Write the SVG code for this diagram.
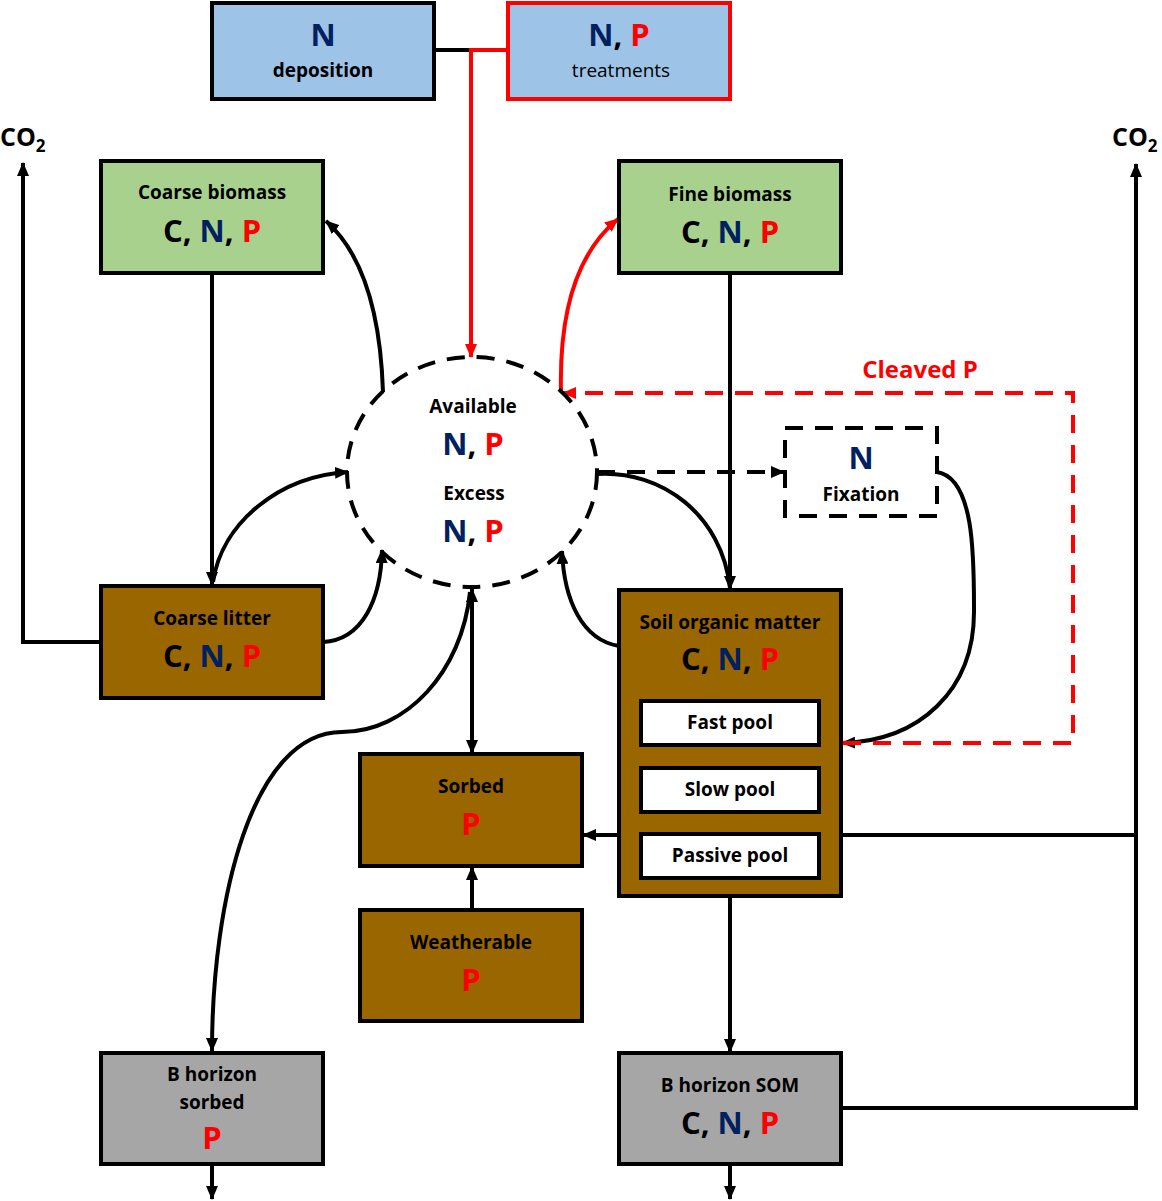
<svg xmlns="http://www.w3.org/2000/svg" width="1162" height="1201" viewBox="0 0 1162 1201">
<style>
text{font-family:"Open Sans","Liberation Sans",sans-serif;text-anchor:middle;font-weight:700;fill:#000}
.t{font-size:19px}
.big{font-size:31px}
.n{fill:#002060}
.p{fill:#FF0000}
.box{stroke:#000;stroke-width:4}
.blue{fill:#9DC3E6}
.green{fill:#A9D18E}
.brown{fill:#996600}
.gray{fill:#A6A6A6}
.white{fill:#fff}
.c{fill:none;stroke:#000;stroke-width:4}
.r{fill:none;stroke:#FF0000;stroke-width:4}
.dash{stroke-dasharray:18 12}
</style>
<defs>
<marker id="a" viewBox="0 0 14 12" refX="13" refY="6" markerWidth="14" markerHeight="12" markerUnits="userSpaceOnUse" orient="auto-start-reverse"><path d="M0,0 L14,6 L0,12 z" fill="#000"/></marker>
<marker id="ar" viewBox="0 0 14 12" refX="13" refY="6" markerWidth="14" markerHeight="12" markerUnits="userSpaceOnUse" orient="auto-start-reverse"><path d="M0,0 L14,6 L0,12 z" fill="#FF0000"/></marker>
</defs>

<g id="connectors">
<path class="c" d="M434,50 H471"/>
<path class="r" d="M508,50 H471 V357" marker-end="url(#ar)"/>
<path class="c" d="M101,642 H23 V163" marker-end="url(#a)"/>
<path class="c" d="M841,835 H1136"/>
<path class="c" d="M841,1108 H1136 V164" marker-end="url(#a)"/>
<path class="c" d="M212,273 V585" marker-end="url(#a)"/>
<path class="c" d="M730,273 V589" marker-end="url(#a)"/>
<path class="c" d="M383,392 Q379,268 326,221" marker-end="url(#a)"/>
<path class="r" d="M561,392 Q558,268 618,219" marker-end="url(#ar)"/>
<path class="c" d="M213,582 C222,522 280,476 348,472" marker-end="url(#a)"/>
<path class="c" d="M323,642 C362,640 381,600 382,550" marker-end="url(#a)"/>
<path class="c" d="M619,646 C582,640 564,600 562,551" marker-end="url(#a)"/>
<path class="c" d="M597,474 C662,470 722,515 730,588"/>
<path class="c dash" d="M597,472 H784" marker-end="url(#a)"/>
<path class="c" d="M937,472 C975,478 974,560 974,612 C974,690 920,741 842,743" marker-end="url(#a)"/>
<path class="r dash" d="M843,743 H1073 V393 H563" marker-end="url(#ar)"/>
<path class="c" d="M472,589 V753" marker-start="url(#a)" marker-end="url(#a)"/>
<path class="c" d="M470,592 C462,672 406,732 342,732 C252,732 212,900 212,1051" marker-end="url(#a)"/>
<path class="c" d="M619,835 H583" marker-end="url(#a)"/>
<path class="c" d="M472,910 V867" marker-end="url(#a)"/>
<path class="c" d="M730,896 V1052" marker-end="url(#a)"/>
<path class="c" d="M212,1164 V1199" marker-end="url(#a)"/>
<path class="c" d="M730,1164 V1199" marker-end="url(#a)"/>
</g>

<g id="co2-left"><text x="0" y="146" style="font-size:25px;text-anchor:start">CO<tspan style="font-size:17px" dy="6">2</tspan></text></g>
<g id="co2-right"><text x="1112" y="146" style="font-size:25px;text-anchor:start">CO<tspan style="font-size:17px" dy="6">2</tspan></text></g>

<g id="n-deposition">
<rect class="box blue" x="212" y="3" width="222" height="96"/>
<text class="big n" x="323" y="46">N</text>
<text class="t" x="323" y="77">deposition</text>
</g>
<g id="np-treatments">
<rect class="blue" x="508" y="3" width="222" height="96" stroke="#FF0000" stroke-width="4"/>
<text class="big" x="619" y="46"><tspan class="n">N</tspan>, <tspan class="p">P</tspan></text>
<text class="t" x="621" y="77" style="font-weight:400">treatments</text>
</g>

<g id="coarse-biomass">
<rect class="box green" x="101" y="161" width="222" height="112"/>
<text class="t" x="212" y="199">Coarse biomass</text>
<text class="big" x="212" y="242">C, <tspan class="n">N</tspan>, <tspan class="p">P</tspan></text>
</g>
<g id="fine-biomass">
<rect class="box green" x="619" y="161" width="222" height="112"/>
<text class="t" x="730" y="201">Fine biomass</text>
<text class="big" x="730" y="243">C, <tspan class="n">N</tspan>, <tspan class="p">P</tspan></text>
</g>

<g id="available-pool">
<ellipse cx="472" cy="472" rx="125" ry="115" fill="none" stroke="#000" stroke-width="4" stroke-dasharray="18 12"/>
<text class="t" x="473" y="413">Available</text>
<text class="big" x="473" y="455"><tspan class="n">N</tspan>, <tspan class="p">P</tspan></text>
<text class="t" x="474" y="500">Excess</text>
<text class="big" x="473" y="542"><tspan class="n">N</tspan>, <tspan class="p">P</tspan></text>
</g>

<g id="cleaved-p"><text class="p" x="920" y="378" style="font-size:24px">Cleaved P</text></g>

<g id="n-fixation">
<rect x="785" y="428" width="152" height="88" fill="#fff" stroke="#000" stroke-width="4" stroke-dasharray="18 12"/>
<text class="big n" x="861" y="469">N</text>
<text class="t" x="861" y="501">Fixation</text>
</g>

<g id="coarse-litter">
<rect class="box brown" x="101" y="586" width="222" height="112"/>
<text class="t" x="212" y="625">Coarse litter</text>
<text class="big" x="212" y="667">C, <tspan class="n">N</tspan>, <tspan class="p">P</tspan></text>
</g>

<g id="soil-organic-matter">
<rect class="box brown" x="619" y="590" width="222" height="306"/>
<text class="t" x="730" y="629">Soil organic matter</text>
<text class="big" x="730" y="670">C, <tspan class="n">N</tspan>, <tspan class="p">P</tspan></text>
<rect class="box white" x="641" y="701" width="178" height="44"/>
<text class="t" x="730" y="729">Fast pool</text>
<rect class="box white" x="641" y="768" width="178" height="44"/>
<text class="t" x="730" y="796">Slow pool</text>
<rect class="box white" x="641" y="834" width="178" height="44"/>
<text class="t" x="730" y="862">Passive pool</text>
</g>

<g id="sorbed">
<rect class="box brown" x="360" y="754" width="222" height="112"/>
<text class="t" x="471" y="793">Sorbed</text>
<text class="big p" x="471" y="835">P</text>
</g>
<g id="weatherable">
<rect class="box brown" x="360" y="910" width="222" height="111"/>
<text class="t" x="471" y="949">Weatherable</text>
<text class="big p" x="471" y="991">P</text>
</g>

<g id="b-horizon-sorbed">
<rect class="box gray" x="101" y="1053" width="222" height="111"/>
<text class="t" x="212" y="1081">B horizon</text>
<text class="t" x="212" y="1109">sorbed</text>
<text class="big p" x="212" y="1149">P</text>
</g>
<g id="b-horizon-som">
<rect class="box gray" x="619" y="1053" width="222" height="111"/>
<text class="t" x="730" y="1092">B horizon SOM</text>
<text class="big" x="730" y="1134">C, <tspan class="n">N</tspan>, <tspan class="p">P</tspan></text>
</g>
</svg>
